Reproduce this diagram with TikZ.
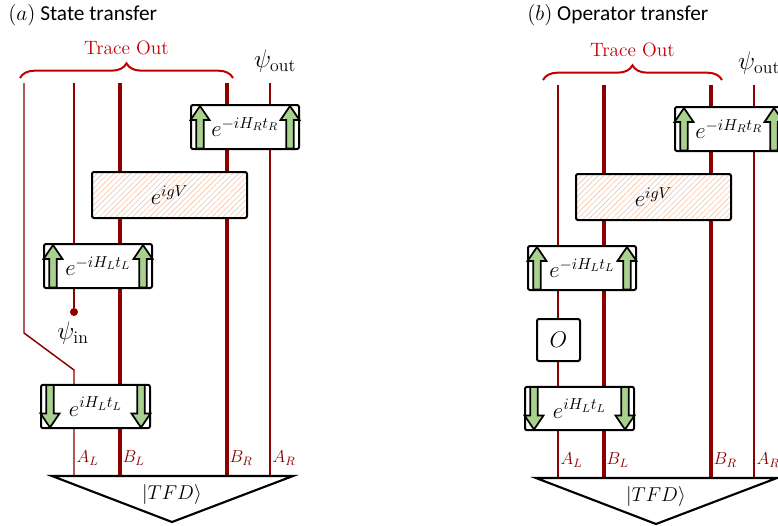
\RequirePackage{fix-cm}
\documentclass[tikz,border=0pt]{standalone}
\usepackage{fontspec}
\newfontfamily\titlefont{Carlito}
\usetikzlibrary{decorations.pathreplacing,patterns.meta,calc}
\definecolor{wire}{RGB}{140,0,0}
\definecolor{tred}{RGB}{192,0,0}
\definecolor{agreen}{RGB}{169,209,142}
\definecolor{hatch}{RGB}{246,196,165}
\tikzset{
 wthin/.style={draw=wire, line width=1.1pt},
 wthick/.style={draw=wire, line width=2.8pt},
 gate/.style={draw=black, line width=1.5pt, fill=white, rounded corners=1.5pt, inner sep=0pt, font=\fontsize{17}{20}\selectfont},
 hatchgate/.style={gate, preaction={fill=white}, pattern={Lines[angle=45,distance=3pt,line width=0.45pt]}, pattern color=hatch},
 arr/.style={draw=black, line width=1.3pt, fill=agreen, line join=miter},
 lbl/.style={text=wire, font=\fontsize{13}{15}\selectfont, anchor=west, inner sep=1pt},
 tbrace/.style={draw=tred, line width=1.5pt, decorate, decoration={brace, amplitude=11pt, aspect=0.5}},
 trace/.style={text=tred, font=\fontsize{14.5}{16}\selectfont, inner sep=0pt},
 psi/.style={font=\fontsize{19}{21}\selectfont, inner sep=0pt},
 title/.style={font=\titlefont\fontsize{16}{19}\selectfont, anchor=west, inner sep=0pt},
 uparr/.pic={\path[arr] (-3.8,21.5) -- (-3.8,-7) -- (-9.5,-7) -- (0,-21) -- (9.5,-7) -- (3.8,-7) -- (3.8,21.5) -- cycle;},
 dnarr/.pic={\path[arr] (-3.8,-21.5) -- (-3.8,7) -- (-9.5,7) -- (0,21) -- (9.5,7) -- (3.8,7) -- (3.8,-21.5) -- cycle;}
}
% #1 prefix, #2 brace left x, #3 brace right x
\newcommand\drawpanel[3]{%
 \coordinate (#1BLt) at (120,83); \coordinate (#1BLb) at (120,476);
 \coordinate (#1BRt) at (227,83); \coordinate (#1BRb) at (227,476);
 \coordinate (#1ARt) at (270,83); \coordinate (#1ARb) at (270,476);
 \draw[wthick] (#1BLt) -- (#1BLb);
 \draw[wthick] (#1BRt) -- (#1BRb);
 \draw[wthin] (#1ARt) -- (#1ARb);
 \node[gate, minimum width=81pt, minimum height=33pt] (#1gR) at (245,127) {$e^{-iH_Rt_R}$};
 \pic at ([xshift=7.5pt]#1gR.west) {uparr};
 \pic at ([xshift=-7.5pt]#1gR.east) {uparr};
 \node[hatchgate, minimum width=116.25pt, minimum height=34.5pt] (#1gV) at (169.5,195) {$e^{igV}$};
 \node[gate, minimum width=81pt, minimum height=33pt] (#1gL) at (98,266) {$e^{-iH_Lt_L}$};
 \pic at ([xshift=7.5pt]#1gL.west) {uparr};
 \pic at ([xshift=-7.5pt]#1gL.east) {uparr};
 \node[gate, minimum width=81.75pt, minimum height=32.5pt] (#1gD) at (95.5,406.5) {$e^{iH_Lt_L}$};
 \pic at ([xshift=7.5pt]#1gD.west) {dnarr};
 \pic at ([xshift=-7.5pt]#1gD.east) {dnarr};
 \node[lbl] (#1lAL) at (75,458) {$A_L$};
 \node[lbl] (#1lBL) at (121,458) {$B_L$};
 \node[lbl] (#1lBR) at (228,458) {$B_R$};
 \node[lbl] (#1lAR) at (271,458) {$A_R$};
 \coordinate (#1tl) at (52,476); \coordinate (#1tr) at (293,476); \coordinate (#1tb) at (172,522);
 \draw[line width=1.6pt, line join=miter] (#1tl) -- (#1tr) -- (#1tb) -- cycle;
 \node[font=\fontsize{15}{17}\selectfont, inner sep=0pt] (#1tfd) at (172,494) {$|TFD\rangle$};
 \coordinate (#1bl) at (#2,78); \coordinate (#1br) at (#3,78);
 \draw[tbrace] (#1bl) -- (#1br);
 \node[trace] (#1trace) at ($(#1bl)!0.5!(#1br)+(0,-30)$) {Trace Out};
 \node[psi] (#1psiout) at (275,61) {$\psi_{\mathrm{out}}$};
}
\begin{document}
\begin{tikzpicture}[x=0.75pt,y=-0.75pt]
\useasboundingbox (0,0) rectangle (778,525);
\clip (0,0) rectangle (778,525);
\fill[white] (0,0) rectangle (778,525);
% panel (a)
\node[title] (ta) at (8,15) {$(a)$ State transfer};
\coordinate (a1t) at (24,83); \coordinate (a1m) at (24,333);
\coordinate (a1n) at (74,370); \coordinate (a1b) at (74,476);
\coordinate (a2t) at (74,83);
\node[circle, fill=wire, inner sep=0pt, minimum size=6pt] (adot) at (74,312) {};
\draw[wthin, line join=miter] (a1t) -- (a1m) -- (a1n) -- (a1b);
\draw[wthin] (a2t) -- (adot);
\drawpanel{a}{20}{233}
\node[psi] (psiin) at (73,333) {$\psi_{\mathrm{in}}$};
% panel (b)
\node[title] (tb) at (527,15) {$(b)$ Operator transfer};
\begin{scope}[shift={(484,2)}]
\coordinate (b1t) at (74,83); \coordinate (b1b) at (74,476);
\draw[wthin] (b1t) -- (b1b);
\drawpanel{b}{59}{238}
\node[gate, minimum width=32.25pt, minimum height=31.5pt] (bO) at (74.5,338) {$O$};
\end{scope}
\end{tikzpicture}
\end{document}
